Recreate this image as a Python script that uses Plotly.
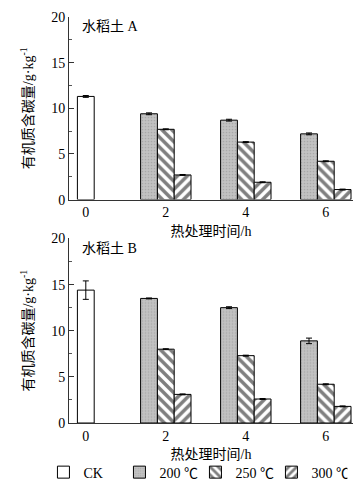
import plotly.graph_objects as go

# ---- data ----
times = [0, 2, 4, 6]
treat_times = [2, 4, 6]
series_names = ["CK", "200 ℃", "250 ℃", "300 ℃"]

# Soil A
a_ck = [11.3]
a_ck_err = [0.1]
a_200 = [9.4, 8.7, 7.2]
a_200_err = [0.1, 0.1, 0.1]
a_250 = [7.7, 6.3, 4.2]
a_250_err = [0.05, 0.05, 0.05]
a_300 = [2.7, 1.9, 1.1]
a_300_err = [0.05, 0.05, 0.05]

# Soil B
b_ck = [14.4]
b_ck_err = [1.0]
b_200 = [13.5, 12.5, 8.9]
b_200_err = [0.05, 0.1, 0.3]
b_250 = [8.0, 7.3, 4.2]
b_250_err = [0.05, 0.05, 0.05]
b_300 = [3.1, 2.6, 1.8]
b_300_err = [0.05, 0.05, 0.05]

panel_titles = ["水稻土 A", "水稻土 B"]
y_ticks = [0, 5, 10, 15, 20]
x_title = "热处理时间/h"
y_title = "有机质含碳量/g·kg<sup>-1</sup>"

FONT = "Liberation Serif, Times New Roman, Noto Sans CJK SC, serif"
FS = 14
W = 0.42

styles = {
    "CK": dict(color="white", pattern=None, offset=-W / 2),
    "200 ℃": dict(color="#b4b4b4", pattern=dict(shape=".", fgcolor="#8f8f8f", bgcolor="#c2c2c2", size=3, solidity=0.25), offset=-1.5 * W),
    "250 ℃": dict(color="white", pattern=dict(shape="\\", fgcolor="black", bgcolor="white", size=7, solidity=0.5), offset=-W / 2),
    "300 ℃": dict(color="white", pattern=dict(shape="/", fgcolor="black", bgcolor="white", size=7, solidity=0.5), offset=W / 2),
}

fig = go.Figure()

panels = [
    ("x", "y", [(a_ck, a_ck_err, [0]), (a_200, a_200_err, treat_times), (a_250, a_250_err, treat_times), (a_300, a_300_err, treat_times)]),
    ("x2", "y2", [(b_ck, b_ck_err, [0]), (b_200, b_200_err, treat_times), (b_250, b_250_err, treat_times), (b_300, b_300_err, treat_times)]),
]

for pi, (xa, ya, sets) in enumerate(panels):
    for name, (vals, errs, xs) in zip(series_names, sets):
        st = styles[name]
        marker = dict(color=st["color"], line=dict(color="black", width=1))
        if st["pattern"]:
            marker["pattern"] = st["pattern"]
        fig.add_trace(go.Bar(
            x=xs, y=vals, name=name, xaxis=xa, yaxis=ya,
            width=W, offset=st["offset"], marker=marker,
            error_y=dict(type="data", array=errs, color="black", thickness=1, width=3),
            showlegend=(pi == 0), legendgroup=name,
        ))

axis_common_x = dict(
    range=[-0.42, 6.68], tickvals=times, ticktext=[str(t) for t in times],
    showline=True, linecolor="#333", linewidth=1, ticks="", showgrid=False,
    zeroline=False, automargin=False, tickfont=dict(size=FS, family=FONT, color="black"),
)
axis_common_y = dict(
    range=[0, 20], tickvals=y_ticks, showline=True, linecolor="#333", linewidth=1,
    ticks="inside", ticklen=5, tickcolor="#333", showgrid=False, zeroline=False,
    automargin=False,
    minor=dict(dtick=2.5, ticks="inside", ticklen=3, tickcolor="#555"),
    tickfont=dict(size=FS, family=FONT, color="black"),
    title=dict(text=y_title, font=dict(size=FS, family=FONT, color="black"), standoff=14),
)

T, B = 9, 63
PH = 490 - T - B
top_dom = [(490 - B - 197) / PH, 1.0]
bot_dom = [0.0, (490 - B - 237) / PH]

fig.update_layout(
    width=362, height=490,
    margin=dict(l=61, r=17, t=T, b=B),
    plot_bgcolor="white", paper_bgcolor="white",
    barmode="overlay",
    font=dict(family=FONT, size=FS, color="black"),
    xaxis=dict(**axis_common_x, domain=[0, 1], anchor="y",
               title=dict(text=x_title, font=dict(size=FS, family=FONT), standoff=6)),
    yaxis=dict(**axis_common_y, domain=top_dom, anchor="x"),
    xaxis2=dict(**axis_common_x, domain=[0, 1], anchor="y2",
                title=dict(text=x_title, font=dict(size=FS, family=FONT), standoff=6)),
    yaxis2=dict(**axis_common_y, domain=bot_dom, anchor="x2"),
    legend=dict(orientation="h", x=-0.09, xanchor="left", y=-51 / PH, yanchor="middle",
                font=dict(size=FS, family=FONT), itemwidth=30,
                entrywidth=31, entrywidthmode="pixels", traceorder="normal",
                bgcolor="rgba(0,0,0,0)"),
    annotations=[
        dict(text=panel_titles[0], xref="paper", yref="paper", x=0.04, y=1.0 - 10 / PH,
             xanchor="left", yanchor="middle", showarrow=False, font=dict(size=FS, family=FONT)),
        dict(text=panel_titles[1], xref="paper", yref="paper", x=0.04, y=bot_dom[1] - 10 / PH,
             xanchor="left", yanchor="middle", showarrow=False, font=dict(size=FS, family=FONT)),
    ],
)

fig.write_html("out.html")
